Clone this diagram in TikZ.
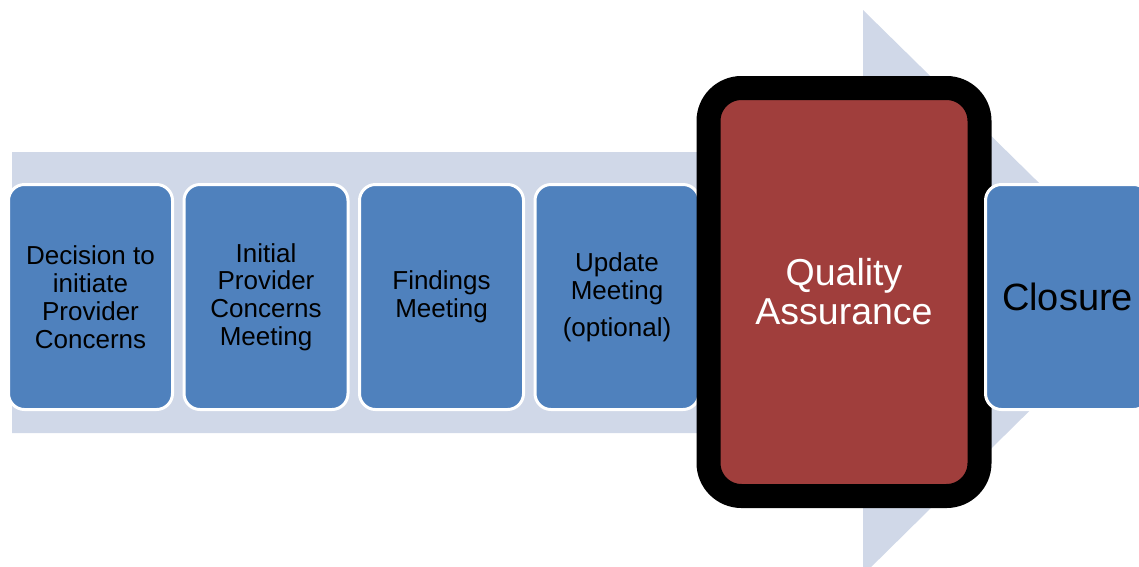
\documentclass[tikz,border=0pt]{standalone}
\usepackage{fontspec}
\setmainfont{Liberation Sans}
\usepackage{xcolor}
\usetikzlibrary{positioning}
\definecolor{bandgray}{RGB}{208,216,232}
\definecolor{stageblue}{RGB}{79,129,189}
\definecolor{qared}{RGB}{160,62,60}
\tikzstyle{stage} = [draw=white, line width=3pt, fill=stageblue, rounded corners=16pt,
    minimum width=164pt, minimum height=225pt, outer sep=0pt, align=center,
    font=\fontsize{26}{27.8}\selectfont]
\tikzstyle{focus} = [draw=black, line width=24pt, fill=qared, rounded corners=33pt,
    minimum width=271pt, minimum height=408pt, outer sep=0pt, align=center,
    text=white, font=\fontsize{37.5}{39}\selectfont]
\tikzstyle{backarrow} = [fill=bandgray]
\begin{document}
\begin{tikzpicture}[x=1pt,y=-1pt]
		\clip (0,0) rectangle (1139,566);
		\fill[backarrow] (12,152) -- (863,152) -- (863,10) -- (1150,292)
		    -- (863,575) -- (863,433) -- (12,433) -- cycle;

		\node[stage] (decision) at (90.5,297) {Decision to\\initiate\\Provider\\Concerns};
		\node[stage, right=11.5pt of decision] (initial) {Initial\\Provider\\Concerns\\Meeting};
		\node[stage, right=11.5pt of initial] (findings) {Findings\\Meeting};
		\node[stage, right=11.5pt of findings] (update) {Update\\Meeting\\[9pt](optional)};
		\node[focus, right=9.5pt of update, yshift=5pt] (qa) {Quality\\Assurance};
		\node[stage, right=6pt of qa, yshift=-5pt, font=\fontsize{38}{39}\selectfont] (closure) {Closure};
	\end{tikzpicture}
\end{document}
